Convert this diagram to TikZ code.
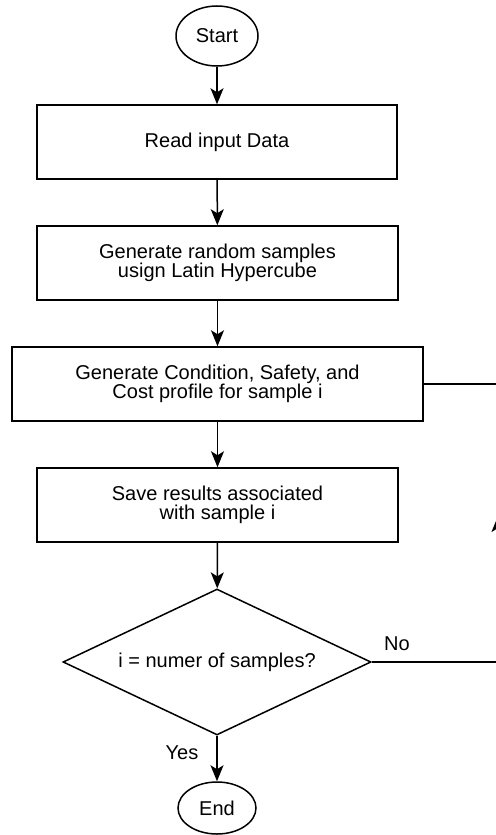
\documentclass[tikz,border=0pt]{standalone}
\usepackage{fontspec}
\setmainfont{Liberation Sans}
\usetikzlibrary{shapes.geometric, arrows.meta}

\begin{document}
\begin{tikzpicture}[x=0.5pt, y=-0.5pt, line width=0.75pt,
  font=\fontsize{10}{9.4}\selectfont,
  proc/.style={draw, rectangle, align=center, minimum height=37pt, inner sep=0pt},
  term/.style={draw, ellipse, inner sep=0pt},
  flow/.style={-{Stealth[length=8pt, width=6.5pt, inset=2pt]}}]
\useasboundingbox (0,0) rectangle (495,835);
\node[term, minimum width=41pt, minimum height=30pt] (start) at (217,36) {Start};
\node[proc, minimum width=180pt] (read) at (217,142) {Read input Data};
\node[proc, minimum width=180.5pt] (gen) at (217.5,263) {Generate random samples\\usign Latin Hypercube};
\node[proc, minimum width=205.5pt] (cond) at (217.5,384) {Generate Condition, Safety, and\\Cost profile for sample i};
\node[proc, minimum width=180.5pt] (save) at (217.5,505) {Save results associated\\with sample i};
\node[draw, diamond, aspect=2.1, minimum width=154pt, minimum height=73pt, inner sep=0pt] (check) at (217,662) {i = numer of samples?};
\node[term, minimum width=39pt, minimum height=26pt] (end) at (217,808) {End};
\node (no) at (397,644) {No};
\node (yes) at (182,753) {Yes};
\coordinate (loopbot) at (498,662);
\coordinate (loopmid) at (498,516);
\coordinate (looptop) at (498,384);
\draw[flow] (start) -- (read);
\draw[flow] (read) -- (gen);
\draw[flow] (gen) -- (cond);
\draw[flow] (cond) -- (save);
\draw[flow] (save) -- (check);
\draw[flow] (check) -- (end);
\draw (check.east) -- (loopbot);
\draw[flow] (loopbot) -- (loopmid);
\draw (loopmid) -- (looptop) -- (cond.east);
\end{tikzpicture}
\end{document}
